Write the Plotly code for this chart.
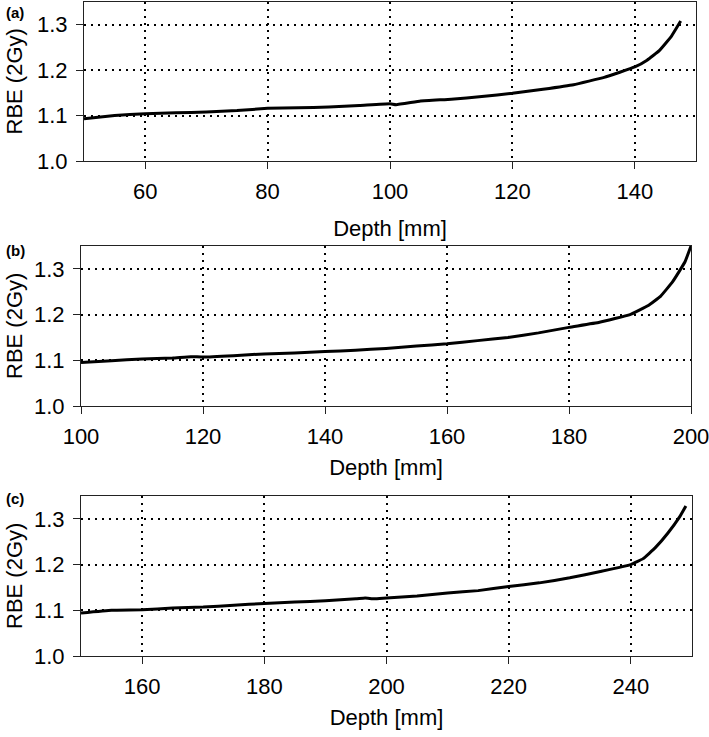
import plotly.graph_objects as go

# Panel (a)
depth_a = [50, 55, 60, 65, 70, 75, 80, 85, 90, 95, 100, 101, 105, 110, 115, 120,
           125, 130, 135, 140, 142, 144, 146, 147.5]
rbe_a = [1.093, 1.100, 1.104, 1.106, 1.108, 1.111, 1.116, 1.117, 1.119, 1.122, 1.126,
         1.124, 1.132, 1.136, 1.142, 1.149, 1.158, 1.168, 1.184, 1.207, 1.222, 1.243,
         1.275, 1.308]

# Panel (b)
depth_b = [100, 105, 110, 115, 118, 120, 125, 130, 135, 140, 145, 150, 155, 160, 165,
           170, 175, 180, 185, 190, 193, 195, 197, 199, 200]
rbe_b = [1.095, 1.099, 1.103, 1.105, 1.108, 1.107, 1.110, 1.114, 1.116, 1.119, 1.122,
         1.126, 1.131, 1.136, 1.143, 1.150, 1.160, 1.172, 1.183, 1.200, 1.220, 1.240,
         1.272, 1.315, 1.350]

# Panel (c)
depth_c = [150, 155, 160, 165, 170, 175, 180, 185, 190, 195, 196.5, 198, 200, 205, 210,
           215, 220, 225, 230, 235, 240, 242, 244, 246, 248, 249]
rbe_c = [1.094, 1.100, 1.101, 1.105, 1.107, 1.111, 1.115, 1.118, 1.121, 1.125, 1.127,
         1.125, 1.127, 1.131, 1.138, 1.143, 1.152, 1.160, 1.171, 1.185, 1.200, 1.213,
         1.237, 1.268, 1.305, 1.328]

panel_labels = ["(a)", "(b)", "(c)"]
x_ranges = [[50, 150], [100, 200], [150, 250]]
x_ticks = [[60, 80, 100, 120, 140], [100, 120, 140, 160, 180, 200], [160, 180, 200, 220, 240]]
y_ticks = [1.0, 1.1, 1.2, 1.3]
x_title = "Depth [mm]"
y_title = "RBE (2Gy)"

W, H = 709, 737
# pixel boxes (left, right, top, bottom)
boxes = [(84, 696, 2, 161), (81, 691, 246, 406), (81, 692, 496, 656)]
x_title_standoff = [17, 11, 11]
label_y = [12, 250, 498]

FONT = "Liberation Sans, Arial, sans-serif"
FS = 22

fig = go.Figure()
series = [(depth_a, rbe_a), (depth_b, rbe_b), (depth_c, rbe_c)]
for i, (xs, ys) in enumerate(series):
    sfx = "" if i == 0 else str(i + 1)
    fig.add_trace(go.Scatter(x=xs, y=ys, mode="lines",
                             line=dict(color="black", width=3, shape="spline", smoothing=0.3),
                             xaxis="x" + sfx, yaxis="y" + sfx, showlegend=False,
                             hoverinfo="skip"))

layout = dict(width=W, height=H, margin=dict(l=0, r=0, t=0, b=0),
              paper_bgcolor="white", plot_bgcolor="white",
              font=dict(family=FONT, size=FS, color="black"), annotations=[])

for i, (l, r, t, b) in enumerate(boxes):
    sfx = "" if i == 0 else str(i + 1)
    xa = dict(domain=[l / W, r / W], range=x_ranges[i], tickvals=x_ticks[i],
              showgrid=True, gridcolor="black", gridwidth=2, griddash="2px,5px",
              showline=True, linecolor="#222", linewidth=1, mirror=True,
              ticks="outside", ticklen=7, tickcolor="#222", zeroline=False,
              anchor="y" + sfx, tickfont=dict(size=FS), automargin=False,
              ticklabelstandoff=4, ticklabeloverflow="allow",
              title=dict(text=x_title, standoff=x_title_standoff[i], font=dict(size=FS)))
    ya = dict(domain=[1 - b / H, 1 - t / H], range=[1.0, 1.35], tickvals=y_ticks,
              ticktext=["1.0", "1.1", "1.2", "1.3"],
              showgrid=True, gridcolor="black", gridwidth=2, griddash="2px,5px",
              showline=True, linecolor="#222", linewidth=1, mirror=True,
              ticks="outside", ticklen=7, tickcolor="#222", zeroline=False,
              anchor="x" + sfx, tickfont=dict(size=FS), automargin=False,
              ticklabelstandoff=4, ticklabeloverflow="allow")
    layout["xaxis" + sfx] = xa
    layout["yaxis" + sfx] = ya
    layout["annotations"].append(dict(text=y_title, textangle=-90,
                                      x=14 / W, y=1 - ((t + b) / 2) / H,
                                      xref="paper", yref="paper",
                                      xanchor="center", yanchor="middle", showarrow=False,
                                      font=dict(size=FS, family=FONT)))
    layout["annotations"].append(dict(text="<b>" + panel_labels[i] + "</b>",
                                      x=4 / W, y=1 - label_y[i] / H, xref="paper", yref="paper",
                                      xanchor="left", yanchor="middle", showarrow=False,
                                      font=dict(size=15, family=FONT)))

fig.update_layout(**layout)
fig.write_html("out.html", config={"displayModeBar": False},
               post_script="document.body.style.margin='0px';")
